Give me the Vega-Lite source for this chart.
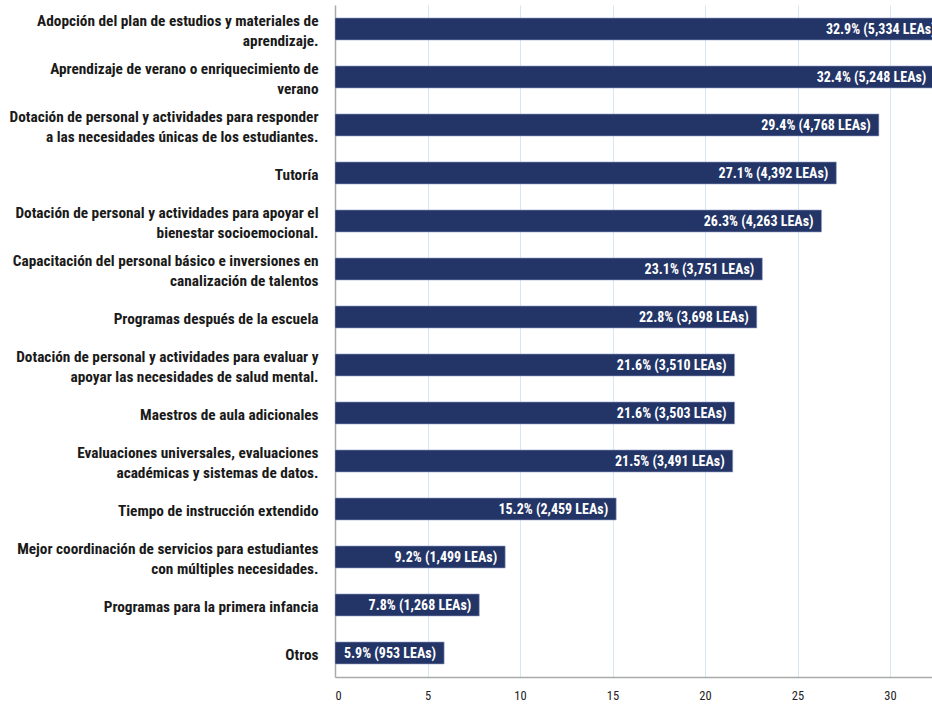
{
  "$schema": "https://vega.github.io/schema/vega-lite/v6.json",
  "autosize": {"type": "none"},
  "padding": {"left": 335, "top": 5, "right": 0, "bottom": 27},
  "width": 597,
  "height": 672,
  "background": "white",
  "config": {
    "view": {"stroke": null},
    "font": "Roboto Condensed, Liberation Sans Narrow, DejaVu Sans Condensed, sans-serif"
  },
  "data": {
    "values": [
      {"categoria": "Adopción del plan de estudios y materiales de|aprendizaje.", "pct": 32.9, "etiqueta": "32.9% (5,334 LEAs)"},
      {"categoria": "Aprendizaje de verano o enriquecimiento de|verano", "pct": 32.4, "etiqueta": "32.4% (5,248 LEAs)"},
      {"categoria": "Dotación de personal y actividades para responder|a las necesidades únicas de los estudiantes.", "pct": 29.4, "etiqueta": "29.4% (4,768 LEAs)"},
      {"categoria": "Tutoría", "pct": 27.1, "etiqueta": "27.1% (4,392 LEAs)"},
      {"categoria": "Dotación de personal y actividades para apoyar el|bienestar socioemocional.", "pct": 26.3, "etiqueta": "26.3% (4,263 LEAs)"},
      {"categoria": "Capacitación del personal básico e inversiones en|canalización de talentos", "pct": 23.1, "etiqueta": "23.1% (3,751 LEAs)"},
      {"categoria": "Programas después de la escuela", "pct": 22.8, "etiqueta": "22.8% (3,698 LEAs)"},
      {"categoria": "Dotación de personal y actividades para evaluar y|apoyar las necesidades de salud mental.", "pct": 21.6, "etiqueta": "21.6% (3,510 LEAs)"},
      {"categoria": "Maestros de aula adicionales", "pct": 21.6, "etiqueta": "21.6% (3,503 LEAs)"},
      {"categoria": "Evaluaciones universales, evaluaciones|académicas y sistemas de datos.", "pct": 21.5, "etiqueta": "21.5% (3,491 LEAs)"},
      {"categoria": "Tiempo de instrucción extendido", "pct": 15.2, "etiqueta": "15.2% (2,459 LEAs)"},
      {"categoria": "Mejor coordinación de servicios para estudiantes|con múltiples necesidades.", "pct": 9.2, "etiqueta": "9.2% (1,499 LEAs)"},
      {"categoria": "Programas para la primera infancia", "pct": 7.8, "etiqueta": "7.8% (1,268 LEAs)"},
      {"categoria": "Otros", "pct": 5.9, "etiqueta": "5.9% (953 LEAs)"}
    ]
  },
  "encoding": {
    "y": {
      "field": "categoria",
      "type": "nominal",
      "sort": null,
      "scale": {"paddingInner": 0.54, "paddingOuter": 0.27},
      "axis": {
        "title": null,
        "labelExpr": "split(datum.value, '|')",
        "labelFont": "Roboto Condensed, Liberation Sans Narrow, DejaVu Sans Condensed, sans-serif",
        "labelFontSize": 15.3,
        "labelFontWeight": "bold",
        "labelColor": "#1a1a1a",
        "labelLineHeight": 20,
        "labelPadding": 17,
        "labelLimit": 400,
        "labelOffset": {"condition": {"test": "indexof(datum.value, '|') >= 0", "value": -8}, "value": 2},
        "ticks": false,
        "domainColor": "#aaaaaa",
        "domainWidth": 1.5,
        "grid": false
      }
    },
    "x": {
      "field": "pct",
      "type": "quantitative",
      "scale": {"domain": [0, 32.27], "nice": false, "zero": true},
      "axis": {
        "title": null,
        "values": [0, 5, 10, 15, 20, 25, 30],
        "labelFontSize": 12.5,
        "labelColor": "#222222",
        "labelPadding": 12,
        "ticks": false,
        "grid": true,
        "gridColor": "#d4e8f2",
        "gridWidth": 1,
        "domainColor": "#aaaaaa",
        "domainWidth": 1.5
      }
    }
  },
  "layer": [
    {
      "mark": {"type": "bar", "color": "#233466", "stroke": "#9aa8cc", "strokeWidth": 0.6, "clip": true}
    },
    {
      "mark": {"type": "text", "align": "right", "baseline": "middle", "dx": -8, "dy": 1, "color": "white", "fontSize": 14, "fontWeight": "bold", "clip": true},
      "encoding": {"text": {"field": "etiqueta"}}
    }
  ]
}
